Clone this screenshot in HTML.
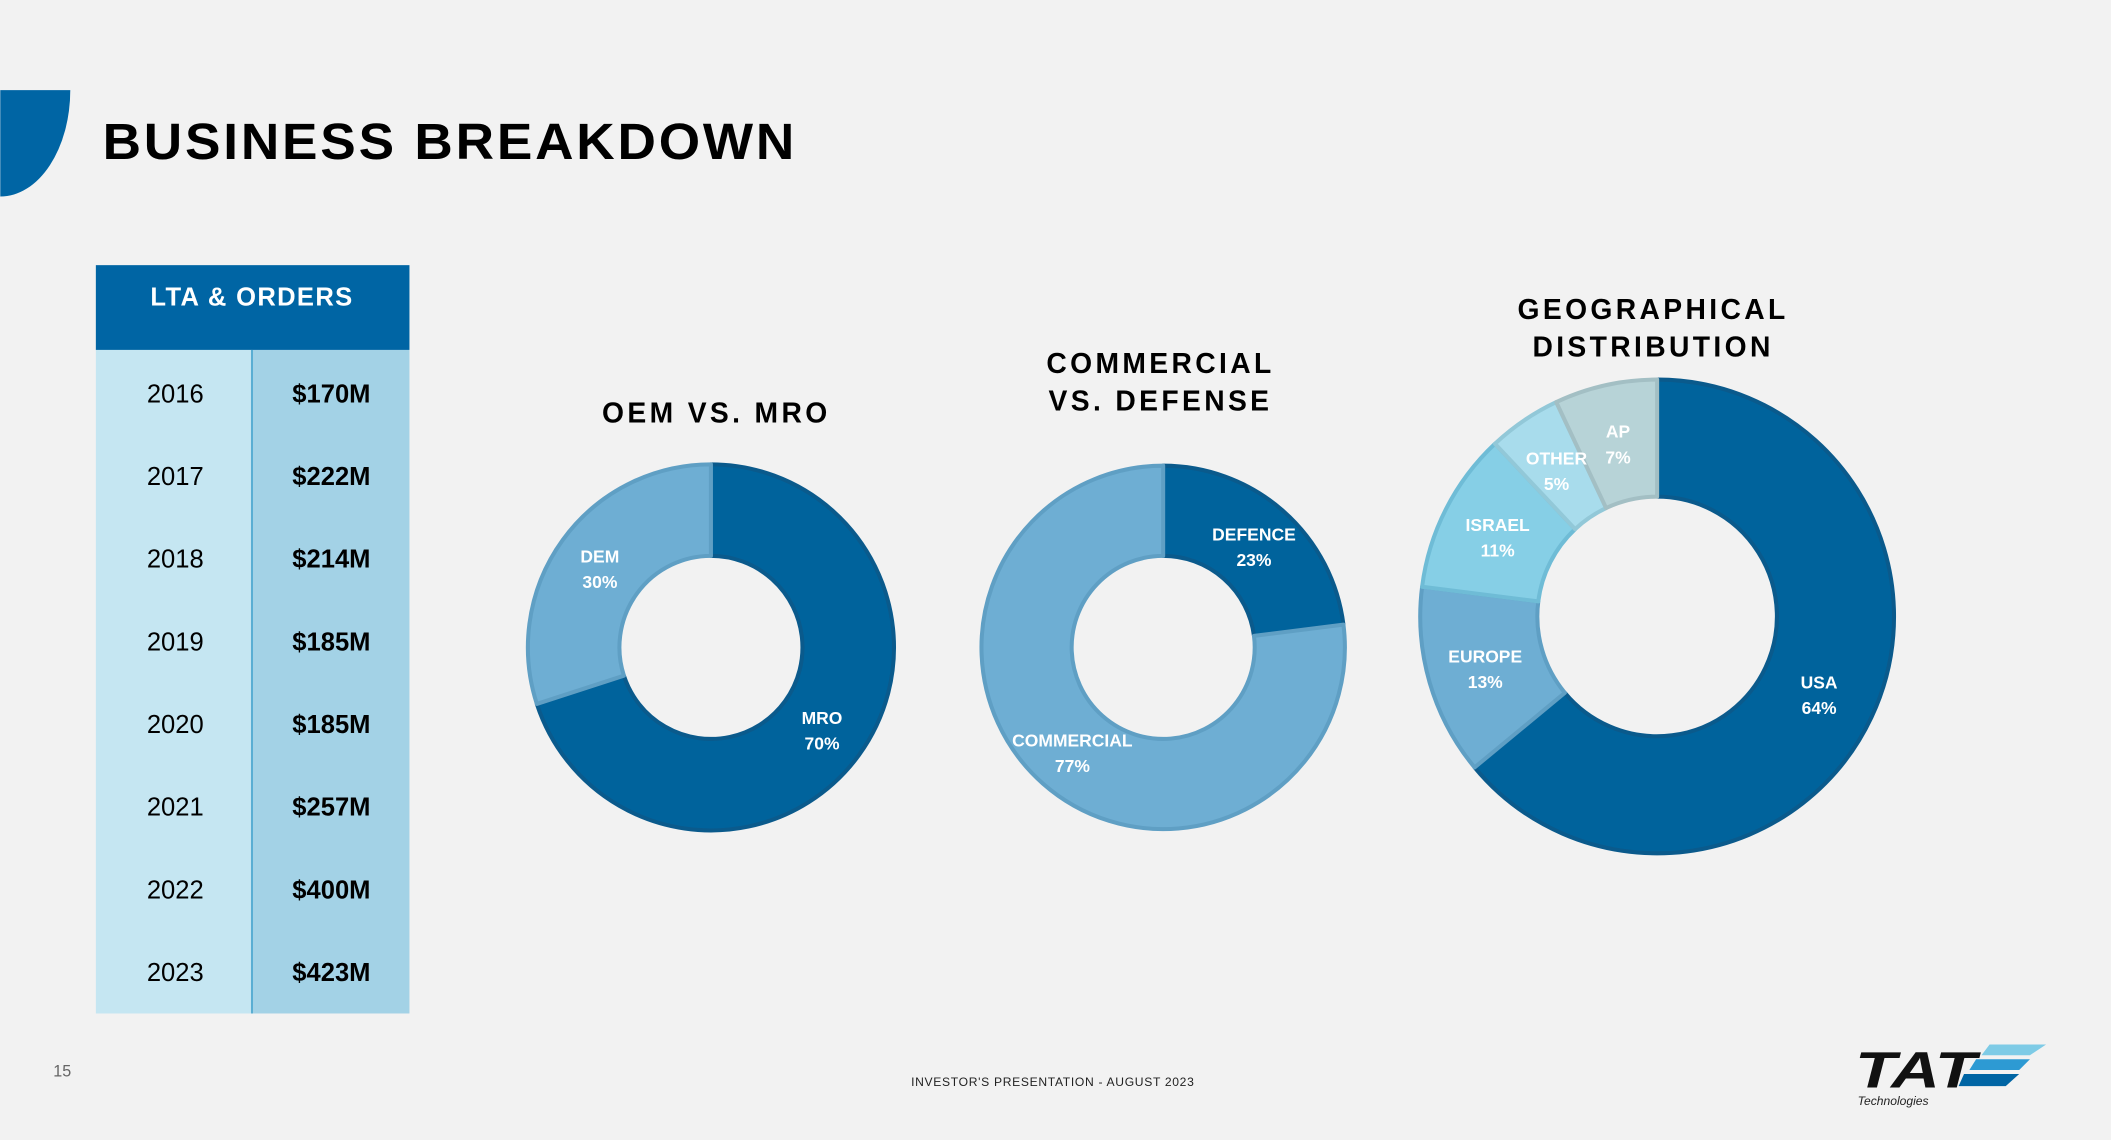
<!DOCTYPE html>
<html><head><meta charset="utf-8"><style>
html,body{margin:0;padding:0;background:#f2f2f2;}
svg{display:block;font-family:"Liberation Sans",sans-serif;}
</style></head><body>
<svg id="s" width="2111" height="1140" viewBox="0 0 1568 847" xmlns="http://www.w3.org/2000/svg">
<rect x="0" y="0" width="1568" height="847" fill="#f2f2f2"/>
<path d="M0 67 H52 A52 79 0 0 1 0 146 Z" fill="#0065a4"/>
<text x="76" y="118" font-size="38" font-weight="bold" fill="#000" textLength="516" lengthAdjust="spacingAndGlyphs" letter-spacing="2">BUSINESS BREAKDOWN</text>

<g>
<rect x="71" y="197" width="233" height="63" fill="#0065a4"/>
<text x="187" y="227" font-size="19" font-weight="bold" fill="#fff" text-anchor="middle" letter-spacing="1">LTA &amp; ORDERS</text>
<rect x="71" y="260" width="116" height="493" fill="#c5e6f2"/>
<rect x="187" y="260" width="117" height="493" fill="#a3d2e6"/>
<line x1="187" y1="260" x2="187" y2="753" stroke="#5aaed3" stroke-width="1.5"/>
<g id="rows"></g>
</g>

<text x="532" y="314" font-size="21" font-weight="bold" text-anchor="middle" letter-spacing="2.5">OEM VS. MRO</text>
<text x="862" y="277" font-size="21" font-weight="bold" text-anchor="middle" letter-spacing="2.5">COMMERCIAL</text>
<text x="862" y="305" font-size="21" font-weight="bold" text-anchor="middle" letter-spacing="2.5">VS. DEFENSE</text>
<text x="1228" y="237" font-size="21" font-weight="bold" text-anchor="middle" letter-spacing="2.5">GEOGRAPHICAL</text>
<text x="1228" y="265" font-size="21" font-weight="bold" text-anchor="middle" letter-spacing="2.5">DISTRIBUTION</text>

<g id="d1"></g>
<g id="d2"></g>
<g id="d3"></g>

<text x="46" y="800" font-size="12" fill="#666" text-anchor="middle">15</text>
<text x="782" y="807" font-size="9" fill="#222" text-anchor="middle" letter-spacing="0.5">INVESTOR'S PRESENTATION - AUGUST 2023</text>

<g>
<text x="1378" y="808" font-size="38" font-weight="bold" font-style="italic" fill="#111" textLength="90" lengthAdjust="spacingAndGlyphs">TAT</text>
<path d="M1478 776 H1520 L1508 784 H1472 Z" fill="#7ecbe6"/>
<path d="M1468 787 H1508 L1500 795 H1463 Z" fill="#2d9ad3"/>
<path d="M1459 798 H1500 L1490 807 H1455 Z" fill="#0065a4"/>
<text x="1380" y="821" font-size="9" font-style="italic" fill="#222">Technologies</text>
</g>
</svg>
<script>
const years = ["2016","2017","2018","2019","2020","2021","2022","2023"];
const orders = ["$170M","$222M","$214M","$185M","$185M","$257M","$400M","$423M"];

const oemLabels = ["MRO","DEM"];
const oemValues = [70,30];
const cdLabels = ["DEFENCE","COMMERCIAL"];
const cdValues = [23,77];
const geoLabels = ["USA","EUROPE","ISRAEL","OTHER","AP"];
const geoValues = [64,13,11,5,7];

const NS="http://www.w3.org/2000/svg";
function mk(tag,attrs,parent){const e=document.createElementNS(NS,tag);for(const k in attrs)e.setAttribute(k,attrs[k]);parent.appendChild(e);return e;}

const rows=document.getElementById('rows');
years.forEach((y,i)=>{
  const cy=292+i*61.4+7;
  const t1=mk('text',{x:130,y:cy,'font-size':19,'text-anchor':'middle',fill:'#000'},rows);
  
  
  t1.textContent=y;
  const t2=mk('text',{x:246,y:cy,'font-size':19,'font-weight':'bold','text-anchor':'middle',fill:'#000'},rows);
  
  
  t2.textContent=orders[i];
});

function pt(cx,cy,r,a){return [cx+r*Math.sin(a),cy-r*Math.cos(a)];}
function donut(g,cx,cy,ro,ri,labels,values,colors,strokes,lr){
  const tot=values.reduce((a,b)=>a+b,0);let a0=0;
  const lg=[];
  values.forEach((v,i)=>{
    const a1=a0+v/tot*2*Math.PI;const large=(a1-a0)>Math.PI?1:0;
    const p1=pt(cx,cy,ro,a0),p2=pt(cx,cy,ro,a1),p3=pt(cx,cy,ri,a1),p4=pt(cx,cy,ri,a0);
    const d=`M${p1[0]} ${p1[1]} A${ro} ${ro} 0 ${large} 1 ${p2[0]} ${p2[1]} L${p3[0]} ${p3[1]} A${ri} ${ri} 0 ${large} 0 ${p4[0]} ${p4[1]} Z`;
    const s=mk('path',{d:d,fill:colors[i],stroke:strokes[i],'stroke-width':3,'stroke-linejoin':'round'},g);
    
    
    lg.push([(a0+a1)/2,i,v]);
    a0=a1;
  });
  lg.forEach(([m,i,v])=>{
    const lp=pt(cx,cy,lr,m);
    const t=mk('text',{x:lp[0],y:lp[1]-3,'font-size':13,'font-weight':'bold',fill:'#fff','text-anchor':'middle'},g);
    
    
    t.textContent=labels[i];
    const t2=mk('text',{x:lp[0],y:lp[1]+16,'font-size':13,'font-weight':'bold',fill:'#fff','text-anchor':'middle'},g);
    
    
    t2.textContent=v+'%';
  });
}
donut(document.getElementById('d1'),528,481,136,68,oemLabels,oemValues,["#00639c","#6eaed3"],["#0a5a8c","#5f9fc4"],102);
donut(document.getElementById('d2'),864,481,135,68,cdLabels,cdValues,["#00639c","#6eaed3"],["#0a5a8c","#5f9fc4"],102);
donut(document.getElementById('d3'),1231,458,176,89,geoLabels,geoValues,["#00639c","#6eaed3","#86cfe6","#a8dcec","#b7d3d7"],["#0a5a8c","#5f9fc4","#6fbcd6","#92c8d8","#a3bfc4"],133);
</script>
</body></html>
